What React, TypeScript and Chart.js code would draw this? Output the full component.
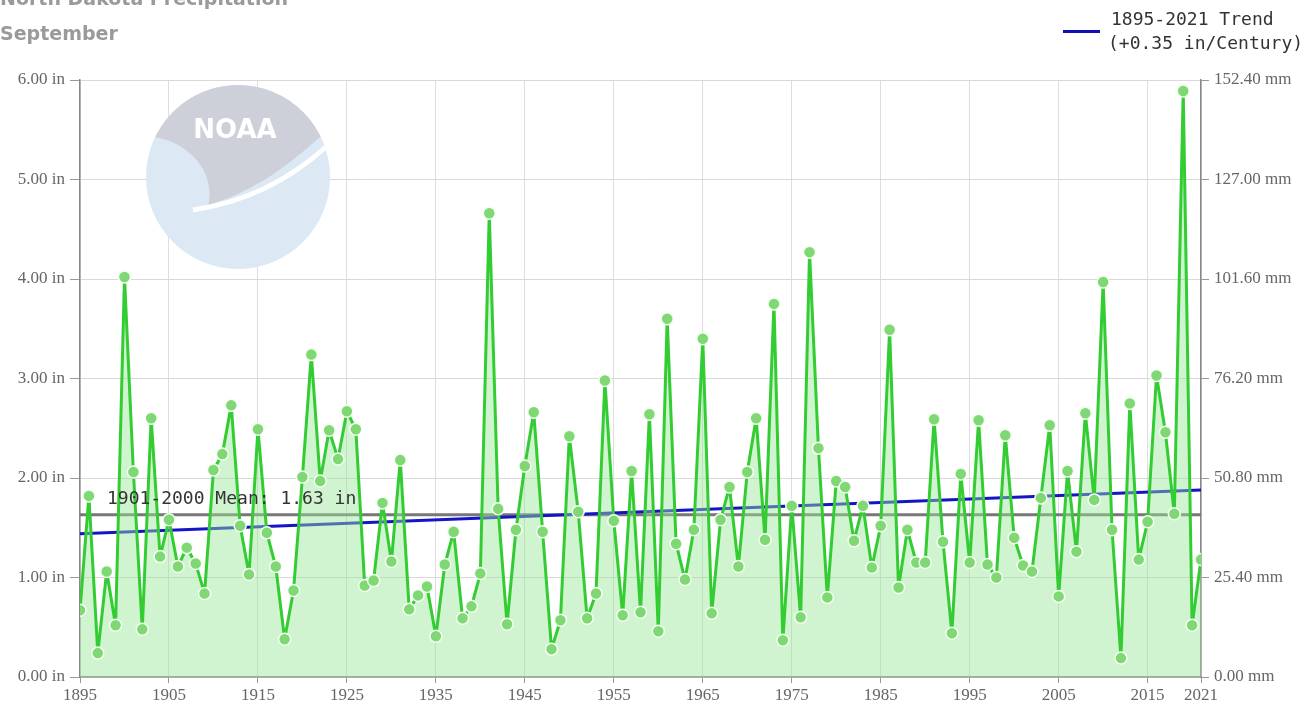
import React, { useEffect, useRef } from "react";
import { Chart, registerables } from "chart.js";

Chart.register(...registerables);

const TITLE = "North Dakota Precipitation";
const SUBTITLE = "September";
const LEGEND_LINE1 = "1895-2021 Trend";
const LEGEND_LINE2 = "(+0.35 in/Century)";
const MEAN_LABEL = "1901-2000 Mean: 1.63 in";

const START_YEAR = 1895;
const END_YEAR = 2021;

// September precipitation (inches), 1895..2021
const PRECIP_IN = [
  0.67, 1.82, 0.24, 1.06, 0.52,
  4.02, 2.06, 0.48, 2.6, 1.21, 1.58, 1.11, 1.3, 1.14, 0.84,
  2.08, 2.24, 2.73, 1.52, 1.03, 2.49, 1.45, 1.11, 0.38, 0.87,
  2.01, 3.24, 1.97, 2.48, 2.19, 2.67, 2.49, 0.92, 0.97, 1.75,
  1.16, 2.18, 0.68, 0.82, 0.91, 0.41, 1.13, 1.46, 0.59, 0.71,
  1.04, 4.66, 1.69, 0.53, 1.48, 2.12, 2.66, 1.46, 0.28, 0.57,
  2.42, 1.66, 0.59, 0.84, 2.98, 1.57, 0.62, 2.07, 0.65, 2.64,
  0.46, 3.6, 1.34, 0.98, 1.48, 3.4, 0.64, 1.58, 1.91, 1.11,
  2.06, 2.6, 1.38, 3.75, 0.37, 1.72, 0.6, 4.27, 2.3, 0.8,
  1.97, 1.91, 1.37, 1.72, 1.1, 1.52, 3.49, 0.9, 1.48, 1.15,
  1.15, 2.59, 1.36, 0.44, 2.04, 1.15, 2.58, 1.13, 1.0, 2.43,
  1.4, 1.12, 1.06, 1.8, 2.53, 0.81, 2.07, 1.26, 2.65, 1.78,
  3.97, 1.48, 0.19, 2.75, 1.18, 1.56, 3.03, 2.46, 1.64, 5.89,
  0.52, 1.18,
];

const YEARS = PRECIP_IN.map((_, i) => START_YEAR + i);

const TREND_START_IN = 1.44;
const TREND_END_IN = 1.88;
const MEAN_IN = 1.63;

const X_TICKS = [1895, 1905, 1915, 1925, 1935, 1945, 1955, 1965, 1975, 1985, 1995, 2005, 2015, 2021];
const Y_TICKS_IN = [0, 1, 2, 3, 4, 5, 6];
const MM_PER_IN = 25.4;

const TICK_FONT = { family: '"Liberation Serif", "Times New Roman", serif', size: 17 };
const TEXT_FONT = '"DejaVu Sans Mono", monospace';

const logoPlugin = {
  id: "noaaLogo",
  beforeDatasetsDraw(chart: any) {
    const { ctx, chartArea } = chart;
    const cx = chartArea.left + 158;
    const cy = chartArea.top + 97;
    const r = 92;
    ctx.save();
    ctx.beginPath();
    ctx.arc(cx, cy, r, 0, Math.PI * 2);
    ctx.fillStyle = "#dce9f5";
    ctx.fill();
    ctx.clip();
    // gray upper shape
    ctx.beginPath();
    ctx.moveTo(cx - 100, cy - 40);
    ctx.bezierCurveTo(cx - 60, cy - 45, cx - 20, cy - 10, cx - 30, cy + 28);
    ctx.bezierCurveTo(cx + 30, cy + 10, cx + 60, cy - 22, cx + 100, cy - 55);
    ctx.lineTo(cx + 100, cy - 100);
    ctx.lineTo(cx - 100, cy - 100);
    ctx.closePath();
    ctx.fillStyle = "#cdd0d9";
    ctx.fill();
    // white swoosh
    ctx.beginPath();
    ctx.moveTo(cx - 45, cy + 33);
    ctx.quadraticCurveTo(cx + 30, cy + 22, cx + 88, cy - 30);
    ctx.strokeStyle = "#ffffff";
    ctx.lineWidth = 5;
    ctx.stroke();
    ctx.fillStyle = "#ffffff";
    ctx.font = "bold 26px 'DejaVu Sans', sans-serif";
    ctx.textAlign = "center";
    ctx.textBaseline = "middle";
    ctx.fillText("NOAA", cx - 3, cy - 46);
    ctx.restore();
  },
};

const meanLabelPlugin = {
  id: "meanLabel",
  afterDatasetsDraw(chart: any) {
    const { ctx, chartArea, scales } = chart;
    const y = scales.y.getPixelForValue(MEAN_IN);
    ctx.save();
    ctx.fillStyle = "#333333";
    ctx.font = `18px ${TEXT_FONT}`;
    ctx.textAlign = "left";
    ctx.textBaseline = "alphabetic";
    ctx.fillText(MEAN_LABEL, chartArea.left + 27, y - 11);
    ctx.restore();
  },
};

export default function App() {
  const canvasRef = useRef<HTMLCanvasElement | null>(null);

  useEffect(() => {
    const canvas = canvasRef.current;
    if (!canvas) return;
    const precipPoints = YEARS.map((yr, i) => ({ x: yr, y: PRECIP_IN[i] }));
    const chart = new Chart(canvas, {
      type: "line",
      data: {
        datasets: [
          {
            label: "Precipitation",
            data: precipPoints,
            borderColor: "#33cc33",
            borderWidth: 3,
            borderJoinStyle: "round",
            pointRadius: 6,
            pointBackgroundColor: "#7fd873",
            pointBorderColor: "#f4fff2",
            pointBorderWidth: 1.5,
            fill: "origin",
            backgroundColor: "rgba(150, 228, 150, 0.45)",
            tension: 0,
            order: 0,
          },
          {
            label: "Trend",
            data: [
              { x: START_YEAR, y: TREND_START_IN },
              { x: END_YEAR, y: TREND_END_IN },
            ],
            borderColor: "#1414c8",
            borderWidth: 3,
            pointRadius: 0,
            fill: false,
            order: 1,
          },
          {
            label: "Mean",
            data: [
              { x: START_YEAR, y: MEAN_IN },
              { x: END_YEAR, y: MEAN_IN },
            ],
            borderColor: "#777777",
            borderWidth: 3,
            pointRadius: 0,
            fill: false,
            order: 2,
          },
        ],
      },
      options: {
        responsive: false,
        animation: false,
        devicePixelRatio: 1,
        layout: { padding: { top: 80, left: 0, right: 0, bottom: 0 } },
        plugins: {
          legend: { display: false },
          tooltip: { enabled: false },
          title: { display: false },
        },
        events: [],
        scales: {
          x: {
            type: "linear",
            min: START_YEAR,
            max: END_YEAR,
            afterBuildTicks: (scale: any) => {
              scale.ticks = X_TICKS.map((v) => ({ value: v }));
            },
            afterFit: (scale: any) => {
              scale.height = 39;
            },
            ticks: {
              autoSkip: false,
              maxRotation: 0,
              color: "#666666",
              font: TICK_FONT,
              padding: 2,
              callback: (v: any) => String(v),
            },
            grid: { color: "#dddddd", tickLength: 6, tickColor: "#999999", lineWidth: 1 },
            border: { color: "#888888", width: 1.5 },
          },
          y: {
            position: "left",
            min: 0,
            max: 6,
            afterBuildTicks: (scale: any) => {
              scale.ticks = Y_TICKS_IN.map((v) => ({ value: v }));
            },
            afterFit: (scale: any) => {
              scale.width = 80;
            },
            ticks: {
              color: "#666666",
              font: TICK_FONT,
              padding: 5,
              callback: (v: any) => `${Number(v).toFixed(2)} in`,
            },
            grid: { color: "#d9d9d9", tickLength: 10, tickColor: "#999999" },
            border: { color: "#888888", width: 1.5 },
          },
          y2: {
            position: "right",
            min: 0,
            max: 6,
            afterBuildTicks: (scale: any) => {
              scale.ticks = Y_TICKS_IN.map((v) => ({ value: v }));
            },
            afterFit: (scale: any) => {
              scale.width = 111;
            },
            ticks: {
              color: "#666666",
              font: TICK_FONT,
              padding: 5,
              callback: (v: any) => `${(Number(v) * MM_PER_IN).toFixed(2)} mm`,
            },
            grid: { drawOnChartArea: false, tickLength: 8, tickColor: "#999999" },
            border: { color: "#888888", width: 1.5 },
          },
        },
      },
      plugins: [logoPlugin, meanLabelPlugin],
    } as any);
    return () => chart.destroy();
  }, []);

  return (
    <div
      style={{
        position: "fixed",
        left: 0,
        top: 0,
        width: 1312,
        height: 716,
        background: "#ffffff",
        overflow: "hidden",
      }}
    >
      <canvas
        ref={canvasRef}
        width={1312}
        height={716}
        style={{ position: "absolute", left: 0, top: 0, width: 1312, height: 716 }}
      />
      <div
        style={{
          position: "absolute",
          left: 0,
          top: -13,
          fontFamily: '"DejaVu Sans", sans-serif',
          fontWeight: "bold",
          fontSize: 19,
          lineHeight: "22px",
          color: "#9a9a9a",
          whiteSpace: "nowrap",
        }}
      >
        {TITLE}
      </div>
      <div
        style={{
          position: "absolute",
          left: 0,
          top: 22,
          fontFamily: '"DejaVu Sans", sans-serif',
          fontWeight: "bold",
          fontSize: 19,
          lineHeight: "22px",
          color: "#9a9a9a",
          whiteSpace: "nowrap",
        }}
      >
        {SUBTITLE}
      </div>
      <div
        style={{
          position: "absolute",
          left: 1063,
          top: 30,
          width: 37,
          height: 3,
          background: "#1010b0",
        }}
      />
      <div
        style={{
          position: "absolute",
          left: 1108,
          top: 7,
          fontFamily: TEXT_FONT,
          fontSize: 18,
          lineHeight: "24px",
          color: "#333333",
          whiteSpace: "nowrap",
        }}
      >
        <div style={{ paddingLeft: 3 }}>{LEGEND_LINE1}</div>
        <div>{LEGEND_LINE2}</div>
      </div>
    </div>
  );
}
